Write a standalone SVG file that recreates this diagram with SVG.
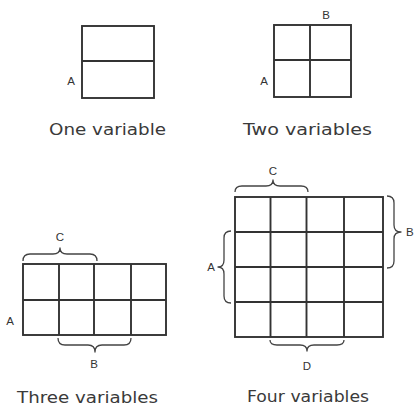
<svg xmlns="http://www.w3.org/2000/svg" width="414" height="406" viewBox="0 0 414 406">
<style>
.grid{fill:none;stroke:#333;stroke-width:1.9}
.brace{fill:none;stroke:#444;stroke-width:1.3;stroke-linejoin:round}
.lbl{font-family:"Liberation Sans",Arial,sans-serif;font-size:11.5px;fill:#333;text-anchor:middle}
.cap{font-family:"DejaVu Sans","Liberation Sans",sans-serif;font-size:16px;fill:#3a3a3a;text-anchor:middle}
</style>
<rect width="414" height="406" fill="#fff"/>
<g id="one-variable">
  <rect class="grid" x="82" y="26" width="72" height="72"/>
  <line class="grid" x1="82" y1="61" x2="154" y2="61"/>
  <text class="lbl" x="71" y="85">A</text>
  <text class="cap" x="107.5" y="135" textLength="117" lengthAdjust="spacingAndGlyphs">One variable</text>
</g>
<g id="two-variables">
  <rect class="grid" x="274" y="25" width="77" height="72"/>
  <line class="grid" x1="310" y1="25" x2="310" y2="97"/>
  <line class="grid" x1="274" y1="60" x2="351" y2="60"/>
  <text class="lbl" x="326" y="19">B</text>
  <text class="lbl" x="264" y="85">A</text>
  <text class="cap" x="307.5" y="135" textLength="129" lengthAdjust="spacingAndGlyphs">Two variables</text>
</g>
<g id="three-variables">
  <rect class="grid" x="23" y="264" width="143" height="71"/>
  <line class="grid" x1="23" y1="300" x2="166" y2="300"/>
  <line class="grid" x1="59" y1="264" x2="59" y2="335"/>
  <line class="grid" x1="94" y1="264" x2="94" y2="335"/>
  <line class="grid" x1="131" y1="264" x2="131" y2="335"/>
  <path class="brace" d="M23 261 Q23 254 30 254 L53 254 Q60 254 60 248 Q60 254 67 254 L90 254 Q97 254 97 261"/>
  <text class="lbl" x="60" y="241">C</text>
  <path class="brace" d="M58 338 Q58 345 65 345 L88 345 Q95 345 95 352 Q95 345 102 345 L124 345 Q131 345 131 338"/>
  <text class="lbl" x="94" y="368">B</text>
  <text class="lbl" x="10" y="325">A</text>
  <text class="cap" x="87.5" y="403" textLength="141" lengthAdjust="spacingAndGlyphs">Three variables</text>
</g>
<g id="four-variables">
  <rect class="grid" x="235" y="197" width="148" height="140"/>
  <line class="grid" x1="235" y1="232" x2="383" y2="232"/>
  <line class="grid" x1="235" y1="267" x2="383" y2="267"/>
  <line class="grid" x1="235" y1="302" x2="383" y2="302"/>
  <line class="grid" x1="270.5" y1="197" x2="270.5" y2="337"/>
  <line class="grid" x1="306.5" y1="197" x2="306.5" y2="337"/>
  <line class="grid" x1="344" y1="197" x2="344" y2="337"/>
  <path class="brace" d="M235 192 Q235 186 242 186 L266 186 Q273 186 273 180 Q273 186 280 186 L301 186 Q308 186 308 192"/>
  <text class="lbl" x="273" y="175">C</text>
  <path class="brace" d="M387 196 Q394 196 394 203 L394 225 Q394 232 401 232 Q394 232 394 239 L394 261 Q394 268 387 268"/>
  <text class="lbl" x="406" y="236" style="text-anchor:start">B</text>
  <path class="brace" d="M231 231 Q224 231 224 238 L224 260 Q224 267 218 267 Q224 267 224 274 L224 296 Q224 303 231 303"/>
  <text class="lbl" x="211" y="271">A</text>
  <path class="brace" d="M270 340 Q270 345 277 345 L300 345 Q307 345 307 351 Q307 345 314 345 L337 345 Q344 345 344 340"/>
  <text class="lbl" x="307" y="370">D</text>
  <text class="cap" x="308" y="402" textLength="122" lengthAdjust="spacingAndGlyphs">Four variables</text>
</g>
</svg>
